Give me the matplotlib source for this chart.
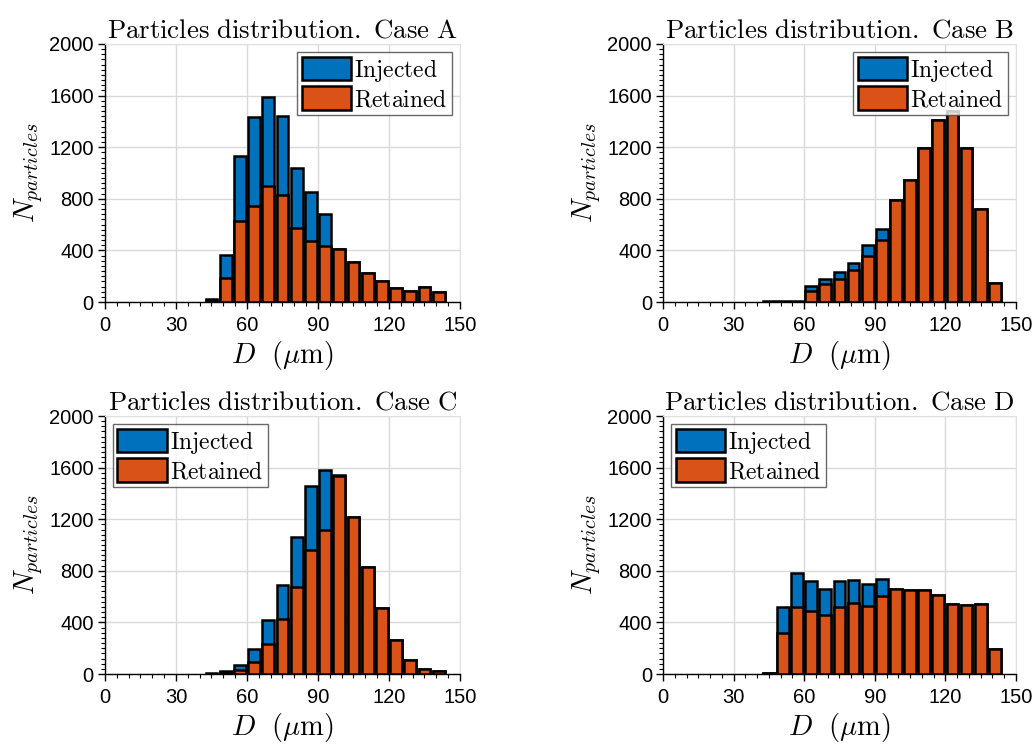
"""Particle size distributions: injected vs retained, four cases."""

import matplotlib
matplotlib.use("Agg")
import matplotlib.pyplot as plt
import numpy as np
from matplotlib.ticker import MultipleLocator

plt.rcParams["mathtext.fontset"] = "cm"
plt.rcParams["font.family"] = ["Liberation Sans", "DejaVu Sans"]

# bin centres (um), bin width 6
diameters = [45, 51, 57, 63, 69, 75, 81, 87, 93, 99, 105, 111, 117, 123, 129, 135, 141]

injected_a = [25, 367, 1129, 1432, 1589, 1444, 1039, 850, 682, 413, 310, 225, 160, 109, 88, 116, 78]
retained_a = [15, 186, 625, 742, 897, 827, 574, 475, 432, 413, 310, 225, 160, 109, 88, 116, 78]

injected_b = [5, 5, 5, 124, 181, 233, 302, 439, 563, 794, 943, 1196, 1410, 1480, 1193, 723, 150]
retained_b = [3, 3, 3, 85, 140, 178, 245, 356, 478, 794, 943, 1196, 1410, 1480, 1193, 723, 150]

injected_c = [5, 20, 72, 193, 415, 693, 1064, 1459, 1580, 1546, 1214, 832, 510, 265, 106, 41, 26]
retained_c = [3, 15, 28, 93, 229, 425, 673, 961, 1116, 1538, 1214, 832, 510, 265, 106, 41, 26]

injected_d = [8, 521, 786, 722, 662, 724, 732, 701, 740, 662, 649, 655, 611, 541, 534, 544, 193]
retained_d = [5, 320, 521, 487, 459, 521, 554, 531, 608, 662, 649, 655, 611, 541, 534, 544, 193]

cases = ["A", "B", "C", "D"]
injected = [injected_a, injected_b, injected_c, injected_d]
retained = [retained_a, retained_b, retained_c, retained_d]
legend_loc = ["upper right", "upper right", "upper left", "upper left"]

BLUE = "#0072BD"
ORANGE = "#D95319"

fig = plt.figure(figsize=(10.35, 7.47), dpi=100)
positions = [
    [0.1014, 0.5957, 0.343, 0.3454],
    [0.6406, 0.5957, 0.341, 0.3454],
    [0.1014, 0.0977, 0.343, 0.3454],
    [0.6406, 0.0977, 0.341, 0.3454],
]

for i, case in enumerate(cases):
    ax = fig.add_axes(positions[i])
    x = np.array(diameters)
    ax.bar(x, injected[i], width=5, color=BLUE, edgecolor="black", linewidth=1.8,
           label=r"$\mathrm{Injected}$", zorder=3)
    ax.bar(x, retained[i], width=5, color=ORANGE, edgecolor="black", linewidth=1.8,
           label=r"$\mathrm{Retained}$", zorder=3)

    ax.set_xlim(0, 150)
    ax.set_ylim(0, 2000)
    ax.xaxis.set_major_locator(MultipleLocator(30))
    ax.xaxis.set_minor_locator(MultipleLocator(5))
    ax.yaxis.set_major_locator(MultipleLocator(400))
    ax.yaxis.set_minor_locator(MultipleLocator(40))
    ax.tick_params(which="major", direction="out", length=5, width=1, labelsize=14.5,
                   top=False, right=False, pad=5)
    ax.tick_params(which="minor", direction="out", length=3, width=0.8,
                   top=False, right=False)
    ax.tick_params(axis="y", which="major", pad=3)
    ax.grid(True, which="major", color="#d9d9d9", linewidth=1, zorder=0)
    ax.set_axisbelow(True)
    for side in ("top", "right"):
        ax.spines[side].set_color("#e0e0e0")
    for side in ("left", "bottom"):
        ax.spines[side].set_linewidth(1)

    ax.set_title(r"$\mathrm{Particles\ distribution.\ Case\ " + case + r"}$",
                 fontsize=19.3, pad=5)
    ax.set_xlabel(r"$D\ \ (\mu\mathrm{m})$", fontsize=20.5, labelpad=3)
    ax.set_ylabel(r"$N_{particles}$", fontsize=20.5, labelpad=3)

    leg = ax.legend(loc=legend_loc[i], frameon=True, fancybox=False, fontsize=17,
                    borderpad=0.18, handlelength=2.1, handleheight=1.15,
                    handletextpad=0.12, labelspacing=0.12, borderaxespad=0.35)
    leg.get_frame().set_edgecolor("#444444")
    leg.get_frame().set_linewidth(1)

fig.savefig("out.png", dpi=100)
